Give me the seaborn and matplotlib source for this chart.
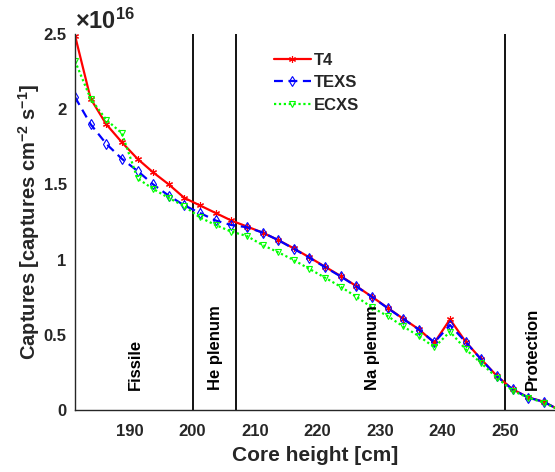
import matplotlib
matplotlib.use("Agg")
import matplotlib.pyplot as plt
from matplotlib.ticker import FuncFormatter
import pandas as pd
import seaborn as sns

# Axial positions of the tally cells [cm]
height_cm = [181.2, 183.7, 186.2, 188.7, 191.2, 193.7, 196.2, 198.7, 201.2, 203.7,
             206.2, 208.7, 211.2, 213.7, 216.2, 218.7, 221.2, 223.7, 226.2, 228.7,
             231.2, 233.7, 236.2, 238.7, 241.2, 243.7, 246.2, 248.7, 251.2, 253.7,
             256.2, 258.7]

# Capture rates, in units of 1e16 captures cm^-2 s^-1
t4 = [2.49, 2.07, 1.90, 1.78, 1.67, 1.58, 1.50, 1.41, 1.36, 1.31,
      1.26, 1.22, 1.18, 1.13, 1.075, 1.015, 0.953, 0.891, 0.824, 0.753,
      0.680, 0.607, 0.537, 0.447, 0.603, 0.454, 0.337, 0.226, 0.138, 0.084,
      0.055, 0.0]
texs = [2.08, 1.90, 1.77, 1.67, 1.59, 1.50, 1.425, 1.36, 1.31, 1.26,
        1.23, 1.215, 1.18, 1.13, 1.072, 1.012, 0.950, 0.888, 0.822, 0.752,
        0.678, 0.606, 0.535, 0.450, 0.565, 0.452, 0.336, 0.224, 0.137, 0.083,
        0.054, 0.0]
ecxs = [2.32, 2.07, 1.93, 1.84, 1.54, 1.47, 1.41, 1.355, 1.28, 1.23,
        1.186, 1.157, 1.097, 1.049, 0.997, 0.938, 0.880, 0.820, 0.753, 0.683,
        0.625, 0.556, 0.492, 0.417, 0.521, 0.404, 0.311, 0.215, 0.128, 0.082,
        0.049, 0.0]
scale_exp = 16

# Region boundaries [cm] and region names
boundaries = [200, 207, 250]
region_names = ["Fissile", "He plenum", "Na plenum", "Protection"]
region_pos = [190.9, 203.7, 228.8, 254.4]

sns.set_theme(style="white")
plt.rcParams["font.family"] = ["Liberation Sans", "DejaVu Sans"]
plt.rcParams["font.weight"] = "bold"
plt.rcParams["axes.labelweight"] = "bold"
plt.rcParams["mathtext.fontset"] = "custom"
plt.rcParams["mathtext.rm"] = "Liberation Sans:bold"
plt.rcParams["mathtext.bf"] = "Liberation Sans:bold"
plt.rcParams["mathtext.it"] = "Liberation Sans:bold"
plt.rcParams["mathtext.default"] = "bf"

fig = plt.figure(figsize=(5.55, 4.72), dpi=100)
ax = fig.add_axes([75 / 555, 62 / 472, 480 / 555, 376 / 472])

RED, BLUE, GREEN = (1, 0, 0), (0, 0, 1), (0, 1, 0)
series = [
    ("T4", t4, dict(color=RED, linestyle="-", marker=(6, 2, 0), markersize=5,
                    markeredgecolor=RED, markeredgewidth=0.8)),
    ("TEXS", texs, dict(color=BLUE, linestyle=(0, (4, 2.5)), marker="d", markersize=5.5,
                        markerfacecolor="none", markeredgecolor=BLUE, markeredgewidth=0.8)),
    ("ECXS", ecxs, dict(color=GREEN, linestyle=(0, (1, 1.2)), marker="v", markersize=5,
                        markerfacecolor="none", markeredgecolor=GREEN, markeredgewidth=0.8)),
]
for name, vals, style in series:
    df = pd.DataFrame({"height": height_cm, "captures": vals})
    sns.lineplot(data=df, x="height", y="captures", ax=ax, label=name, sort=False,
                 errorbar=None, linewidth=1.6, **style)

for b in boundaries:
    ax.axvline(b, color="black", linewidth=1.3, zorder=1)

for name, xp in zip(region_names, region_pos):
    ax.text(xp, 0.133, name, rotation=90, ha="center", va="bottom",
            fontsize=12, fontweight="bold", color="black")

ax.set_xlim(181.2, 258.0)
ax.set_ylim(0, 2.5)
ax.set_xticks([190, 200, 210, 220, 230, 240, 250])
ax.set_yticks([0, 0.5, 1, 1.5, 2, 2.5])
ax.yaxis.set_major_formatter(FuncFormatter(lambda v, p: f"{v:g}"))
ax.tick_params(axis="both", direction="in", length=5, width=1, labelsize=12,
               colors="#262626", pad=6)
ax.tick_params(axis="x", pad=10)
for lbl in ax.get_xticklabels() + ax.get_yticklabels():
    lbl.set_fontweight("bold")

for s in ["top", "right"]:
    ax.spines[s].set_visible(False)
for s in ["left", "bottom"]:
    ax.spines[s].set_color("#262626")
    ax.spines[s].set_linewidth(1.0)

ax.set_xlabel("Core height [cm]", fontsize=15, fontweight="bold", color="#262626", labelpad=5)
ax.set_ylabel("Captures [captures cm$^{-2}$ s$^{-1}$]", fontsize=14.5, fontweight="bold",
              color="#262626", labelpad=1)

ax.text(0.0, 1.0, r"$\times10^{%d}$" % scale_exp, transform=ax.transAxes,
        ha="left", va="bottom", fontsize=17, color="#262626")

leg = ax.legend(loc="upper left", bbox_to_anchor=(0.383, 0.99), frameon=False,
                fontsize=12, handlelength=2.2, handletextpad=0.2, labelspacing=0.45)
for t in leg.get_texts():
    t.set_fontweight("bold")

fig.savefig("out.png", dpi=100)
